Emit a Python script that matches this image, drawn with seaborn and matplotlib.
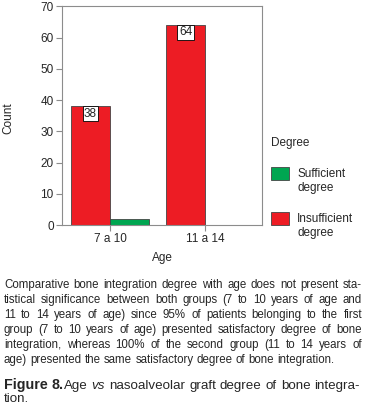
import matplotlib
matplotlib.use("Agg")
import matplotlib.pyplot as plt
from matplotlib.legend_handler import HandlerPatch
import seaborn as sns
import pandas as pd

# data
ages = ["7 a 10", "11 a 14"]
insufficient = [38, 64]
sufficient = [2, 0]
degree_order = ["Insufficient degree", "Sufficient degree"]
degree_colors = {"Insufficient degree": "#ED1C24", "Sufficient degree": "#00A651"}
legend_labels = {"Sufficient degree": "Sufficient\ndegree", "Insufficient degree": "Insufficient\ndegree"}

caption_lines = [
    "Comparative bone integration degree with age does not present sta-",
    "tistical significance between both groups (7 to 10 years of age and",
    "11 to 14 years of age) since 95% of patients belonging to the first",
    "group (7 to 10 years of age) presented satisfactory degree of bone",
    "integration, whereas 100% of the second group (11 to 14 years of",
    "age) presented the same satisfactory degree of bone integration.",
]

df = pd.DataFrame({
    "Age": ages * 2,
    "Degree": ["Insufficient degree"] * 2 + ["Sufficient degree"] * 2,
    "Count": insufficient + sufficient,
})

sns.set_style("white")
plt.rcParams["font.family"] = ["Liberation Sans", "DejaVu Sans"]

W, H = 365, 415
fig = plt.figure(figsize=(W / 100, H / 100), dpi=100)
ax = fig.add_axes([62 / W, 1 - 225 / H, 200 / W, 218.5 / H])

sns.barplot(data=df, x="Age", y="Count", hue="Degree", hue_order=degree_order,
            order=ages, palette=degree_colors, width=0.82, edgecolor="#444444",
            linewidth=0.6, saturation=1, ax=ax, legend=False)

ax.set_ylim(0, 70)
ax.set_yticks(range(0, 71, 10))
ax.set_xlim(-0.505, 1.6)
for s in ax.spines.values():
    s.set_visible(True)
    s.set_color("#8c8c8c")
    s.set_linewidth(0.8)
ax.tick_params(axis="both", direction="out", length=4, width=0.8, color="#8c8c8c",
               labelsize=8.5, pad=2, left=True, bottom=True)
ax.set_xticks([0, 1])
ax.set_xticklabels(ages)

ax.set_ylabel("Count", fontsize=8.5)
ax.yaxis.set_label_coords(-0.24, 0.49)
ax.set_xlabel("Age", fontsize=8.5)
ax.xaxis.set_label_coords(0.5, -0.125)

# boxed count labels on the red bars
for bar in ax.containers[0]:
    h = bar.get_height()
    ax.text(bar.get_x() + bar.get_width() / 2, h - 0.4, f"{int(h)}", ha="center", va="top",
            fontsize=8.5, bbox=dict(boxstyle="square,pad=0.12", fc="white", ec="black", lw=0.6))


# legend (Sufficient first), swatch lined up with the first text line
def top_patch(legend, orig_handle, xdescent, ydescent, width, height, fontsize):
    return plt.Rectangle((-xdescent, -ydescent + 5.8), width, height)


handles = []
for key in ["Sufficient degree", "Insufficient degree"]:
    handles.append(plt.Rectangle((0, 0), 1, 1, fc=degree_colors[key], ec="#444444", lw=0.6))
leg = ax.legend(handles, [legend_labels[k] for k in ["Sufficient degree", "Insufficient degree"]],
                title="Degree", loc="upper left", bbox_to_anchor=(1.02, 0.425), frameon=False,
                fontsize=8.5, title_fontsize=8.5, handlelength=1.55, handleheight=1.3,
                handletextpad=0.7, labelspacing=1.6, borderaxespad=0,
                handler_map={plt.Rectangle: HandlerPatch(patch_func=top_patch)})
leg._legend_box.align = "left"
leg._legend_box.sep = 14

# justified caption text
renderer = fig.canvas.get_renderer()


def text_width(s, **kw):
    t = fig.text(0, 0, s, **kw)
    w = t.get_window_extent(renderer).width
    t.remove()
    return w


def place_line(words, y, x0, x1, justify=True):
    # words: list of list of (text, kwargs) runs
    groups = []
    total = 0
    for runs in words:
        items = []
        gw = 0
        for txt, kw in runs:
            t = fig.text(0, 1 - y / H, txt, va="baseline", ha="left", **kw)
            w = t.get_window_extent(renderer).width
            items.append((t, w))
            gw += w
        groups.append((items, gw))
        total += gw
    if justify and len(groups) > 1:
        gap = (x1 - x0 - total) / (len(groups) - 1)
    else:
        gap = text_width("a a", fontsize=8.3) - 2 * text_width("a", fontsize=8.3)
    x = x0
    for items, gw in groups:
        for t, w in items:
            t.set_x(x / W)
            x += w
        x += gap


norm = dict(fontsize=8.3)
for i, line in enumerate(caption_lines):
    words = [[(w, norm)] for w in line.split()]
    place_line(words, 288 + i * 15, 4, 362, justify=(i < len(caption_lines) - 1))

bold = dict(fontsize=10.3, fontweight="bold")
ital = dict(fontsize=9.6, style="italic")
reg = dict(fontsize=9.6)
fig_words = [[("Figure", bold)], [("8.", bold), ("Age", reg)], [("vs", ital)]]
fig_words += [[(w, reg)] for w in "nasoalveolar graft degree of bone integra-".split()]
place_line(fig_words, 389, 4, 360)
place_line([[("tion.", reg)]], 402, 4, 360, justify=False)

fig.savefig("out.png", dpi=100)
